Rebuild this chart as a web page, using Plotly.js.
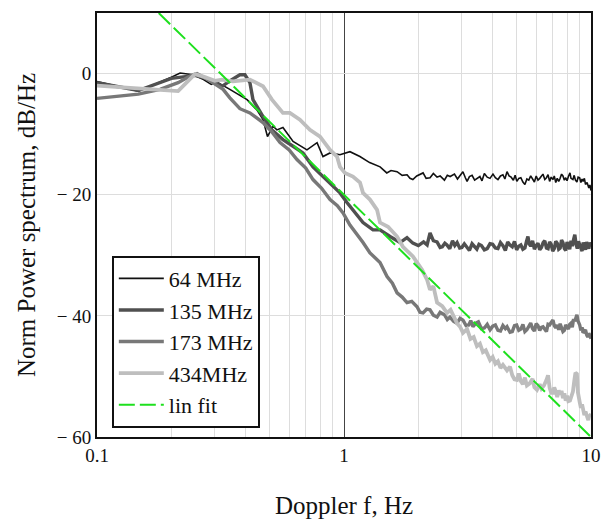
<!DOCTYPE html>
<html>
<head>
<meta charset="utf-8">
<script src="https://cdn.plot.ly/plotly-3.0.1.min.js"></script>
<style>
  html, body { margin: 0; padding: 0; background: #ffffff; }
  #chart { width: 607px; height: 519px; }
</style>
</head>
<body>
<div id="chart"></div>
<script>
// ---- Data: [frequency Hz, dB/Hz] ----
const seriesNames = ["64 MHz", "135 MHz", "173 MHz", "434MHz", "lin fit"];

const s64 = [[0.1,-1.3],[0.147,-2.9],[0.2,-0.6],[0.217,0.1],[0.245,-0.2],[0.27,-1],[0.29,-1.8],[0.306,-1.4],[0.345,-2.6],[0.405,-4.3],[0.444,-6],[0.47,-7.6],[0.49,-10.4],[0.516,-8.7],[0.535,-9.3],[0.566,-8.9],[0.622,-11.2],[0.708,-12.6],[0.778,-11.4],[0.822,-13.7],[0.878,-13.1],[0.963,-13.4],[1.057,-12.9],[1.16,-13.7],[1.27,-14.7],[1.4,-15.4],[1.49,-16.4],[1.55,-16],[1.64,-16.2],[1.72,-16.8],[1.8,-16.7],[1.85,-17.3],[1.9,-17.5],[1.97,-16.9],
[2.09,-16.4],[2.15,-17.3],[2.23,-17.2],[2.3,-16.5],[2.38,-17.1],[2.45,-16.9],[2.55,-17.6],[2.62,-16.8],[2.69,-17],[2.8,-16.6],[2.88,-17.4],[2.95,-16.9],[3.03,-16.2],[3.1,-17.2],[3.15,-17.8],[3.22,-17],[3.3,-16.8],[3.38,-17.6],[3.45,-17.4],[3.55,-17],[3.62,-17.7],[3.7,-16.5],[3.8,-17.1],[3.9,-17.3],[4.01,-16.6],[4.1,-17.2],[4.2,-17.5],[4.3,-16.9],[4.4,-16.7],[4.48,-17.4],[4.57,-16.2],[4.66,-16.9],[4.75,-17.1],[4.85,-17.6],[4.93,-16.8],[5.01,-17.8],[5.1,-17.3],[5.2,-17.2],[5.3,-17.9],[5.4,-18.3],[5.5,-17.4],[5.6,-17.6],[5.7,-16.9],[5.82,-17.4],[5.9,-17.9],[6.0,-16.9],[6.1,-17.6],[6.2,-17.3],[6.3,-16.8],[6.39,-16.6],[6.5,-17.5],[6.6,-17.2],[6.7,-16.7],[6.8,-17.8],[6.9,-17.1],[7.02,-17.5],[7.1,-16.9],[7.2,-18],[7.3,-17.3],[7.4,-17.8],[7.48,-17.4],[7.6,-16.6],[7.7,-16.9],[7.8,-17.6],[7.9,-17.2],[8.0,-17.7],[8.1,-17],[8.22,-16.4],[8.3,-17.3],[8.45,-17.5],[8.55,-16.8],[8.65,-17.6],[8.77,-17.9],[8.87,-17.1],[9.0,-17.2],[9.1,-18],[9.2,-17.4],[9.29,-17.8],[9.4,-17.3],[9.5,-18.3],[9.64,-18],[9.72,-18.6],[9.8,-18.9],[9.9,-18.4],[10,-19.3]];

const s135 = [[0.1,-1.5],[0.147,-2.8],[0.2,-0.8],[0.25,-0.3],[0.287,-1],[0.321,-2.1],[0.345,-1.2],[0.379,-0.2],[0.397,-0.2],[0.416,-1.5],[0.428,-4.3],[0.47,-7.1],[0.511,-9.3],[0.566,-10.9],[0.622,-12],[0.682,-13.1],[0.749,-15.4],[0.822,-17],[0.902,-18.7],[0.963,-19.7],[1.028,-21.3],[1.087,-22.5],[1.161,-24],[1.194,-24.6],[1.31,-25.8],[1.399,-25.8],[1.536,-26.9],[1.686,-27.9],[1.799,-27.1],[1.9,-28],[2.0,-28.4],
[2.1,-27.8],[2.17,-28.3],[2.23,-26.3],[2.3,-27.6],[2.38,-27.8],[2.45,-28.7],[2.5,-28.6],[2.56,-28],[2.61,-28.3],[2.68,-28.9],[2.75,-27.6],[2.81,-28.4],[2.87,-27.9],[2.94,-28.8],[3.0,-28.7],[3.07,-28.1],[3.15,-28.8],[3.22,-29.2],[3.3,-28.1],[3.37,-28.6],[3.45,-29],[3.52,-28.2],[3.6,-28.4],[3.7,-29.1],[3.8,-28.9],[3.9,-28.1],[4.0,-28.2],[4.1,-28.8],[4.2,-28.9],[4.3,-27.9],[4.4,-28.4],[4.5,-29.2],[4.6,-27.8],[4.7,-28.3],[4.8,-28.6],[4.9,-27.7],[5.0,-29.1],[5.1,-28.5],[5.2,-28.3],[5.3,-29],[5.4,-28.8],[5.48,-27.7],[5.555,-26.9],[5.62,-28.1],[5.7,-28.5],[5.8,-27.6],[5.9,-29],[6.0,-28.4],[6.1,-28],[6.2,-29.1],[6.3,-28.7],[6.4,-27.9],[6.5,-27.6],[6.6,-28.8],[6.7,-28.9],[6.8,-27.8],[6.9,-28.2],[7.0,-29.3],[7.1,-28.9],[7.2,-27.7],[7.3,-28],[7.4,-29],[7.5,-28.8],[7.6,-27.5],[7.7,-27.9],[7.8,-28.9],[7.9,-29.2],[8.0,-27.8],[8.1,-28.3],[8.2,-29],[8.3,-27.6],[8.4,-28.5],[8.5,-27.4],[8.6,-26.6],[8.7,-28.2],[8.8,-28.9],[8.9,-27.7],[9.0,-28.1],[9.1,-28.8],[9.2,-29.3],[9.3,-27.9],[9.4,-28.4],[9.5,-29.1],[9.6,-27.8],[9.7,-28.6],[9.8,-28.9],[9.9,-27.9],[10,-28.5]];

const s173 = [[0.1,-4.1],[0.147,-3.4],[0.18,-2.6],[0.213,-1.5],[0.238,-0.4],[0.254,0],[0.287,-1.2],[0.324,-2.6],[0.345,-4],[0.379,-5.8],[0.416,-6.5],[0.47,-8.1],[0.51,-9.6],[0.551,-11.4],[0.6,-12.6],[0.645,-14.2],[0.7,-15.6],[0.749,-17.5],[0.81,-18.9],[0.878,-20.8],[0.94,-21.8],[0.991,-23],[1.057,-25],[1.129,-26.5],[1.194,-27.9],[1.274,-29.6],[1.33,-30.3],[1.399,-31.2],[1.494,-33.5],[1.57,-34.6],[1.64,-36.2],[1.72,-36.9],[1.799,-37.8],[1.88,-37.6],[1.976,-38.5],
[2.03,-39.4],[2.089,-39.5],[2.16,-38.9],[2.229,-39],[2.3,-39.9],[2.381,-40.2],[2.45,-39.4],[2.55,-39.8],[2.62,-40.6],[2.685,-40.2],[2.78,-40.9],[2.866,-41.2],[2.95,-40.4],[3.033,-40.7],[3.12,-41.6],[3.2,-41.5],[3.26,-40.8],[3.327,-41.8],[3.42,-41.2],[3.5,-41],[3.6,-42.1],[3.7,-42],[3.8,-41.4],[3.903,-42.3],[4.0,-41.7],[4.1,-41.5],[4.2,-42.4],[4.3,-42.5],[4.4,-41.6],[4.5,-42.1],[4.571,-41.8],[4.7,-42.7],[4.8,-42.6],[4.9,-41.6],[5.0,-41.5],[5.1,-42.4],[5.2,-42.2],[5.3,-41.4],[5.4,-42.6],[5.5,-42.3],[5.6,-41.7],[5.7,-41.2],[5.8,-42.1],[5.9,-42.5],[6.0,-41.3],[6.1,-41.6],[6.2,-42.4],[6.3,-41.9],[6.394,-41.8],[6.5,-42.3],[6.6,-42.6],[6.7,-41.4],[6.8,-41.5],[6.9,-41.1],[7.015,-40.7],[7.1,-41.6],[7.2,-42],[7.3,-41.5],[7.4,-42.3],[7.5,-41.3],[7.6,-41.9],[7.7,-42.6],[7.8,-42.4],[7.9,-41.5],[8.0,-41.8],[8.1,-42.2],[8.2,-41.4],[8.3,-41.2],[8.4,-41.9],[8.5,-40.5],[8.6,-40.9],[8.7,-40.2],[8.77,-39.8],[8.85,-40.8],[9.0,-41.5],[9.1,-42.4],[9.2,-41.9],[9.285,-42.8],[9.4,-42.6],[9.5,-42.3],[9.6,-43.1],[9.7,-43.5],[9.8,-42.9],[9.9,-43.2],[10,-43.8]];

const s434 = [[0.1,-2],[0.147,-2.5],[0.213,-2.9],[0.249,-0.1],[0.27,-0.5],[0.3,-1.2],[0.32,-1],[0.355,-1.3],[0.416,-1],[0.47,-2.1],[0.511,-4.3],[0.566,-6.5],[0.604,-6.5],[0.663,-7.6],[0.728,-9.3],[0.8,-10.4],[0.878,-12.6],[0.937,-13.7],[0.963,-15.4],[1.009,-16.4],[1.087,-17],[1.161,-18],[1.194,-19.7],[1.274,-20.8],[1.361,-22.5],[1.399,-24.6],[1.508,-25.3],[1.64,-26.9],[1.733,-28.6],[1.902,-30.2],
[2.07,-32.4],[2.168,-34],[2.229,-35.7],[2.3,-35.1],[2.381,-37.8],[2.5,-38.4],[2.612,-39.5],[2.7,-39],[2.866,-41.2],[2.95,-41.8],[3.033,-42.8],[3.15,-42.2],[3.25,-43.8],[3.35,-43.5],[3.453,-45],[3.55,-44.6],[3.65,-46],[3.75,-45.7],[3.903,-47.3],[4.0,-46.8],[4.1,-47.9],[4.2,-47.5],[4.3,-48.6],[4.4,-48.1],[4.571,-49],[4.7,-48.4],[4.8,-49.8],[4.9,-50.5],[5.012,-50.6],[5.1,-49.5],[5.2,-50.8],[5.3,-51.3],[5.4,-50.2],[5.5,-51.5],[5.662,-51.1],[5.8,-50.4],[5.9,-51.8],[6.043,-52.2],[6.2,-51.3],[6.3,-52],[6.45,-51.5],[6.6,-50.6],[6.699,-49.8],[6.8,-51.9],[6.9,-52.7],[7.015,-52.7],[7.1,-51.8],[7.2,-52.5],[7.3,-53.4],[7.4,-52.3],[7.483,-53],[7.6,-52.4],[7.7,-53.6],[7.8,-52.8],[7.9,-54],[8.0,-53.2],[8.1,-54.1],[8.222,-54],[8.35,-53.2],[8.45,-52.5],[8.55,-50.8],[8.65,-49.4],[8.77,-49.6],[8.85,-52.6],[9.016,-54.4],[9.1,-55.2],[9.2,-54.6],[9.3,-55.7],[9.4,-56.4],[9.5,-55.8],[9.638,-56.7],[9.75,-57.2],[9.85,-56.3],[9.908,-56.5],[10,-56.2]];

const sFit = [[0.1778,10],[10,-60]];

const yTickVals = [-60, -40, -20, 0];
const yTickText = ["\u2212 60", "\u2212 40", "\u2212 20", "0"];
const xTickVals = [0.1, 1, 10];
const xTickText = ["0.1", "1", "10"];
const xMinorVals = [0.2,0.3,0.4,0.5,0.6,0.7,0.8,0.9,2,3,4,5,6,7,8,9];

// ---- Chart ----
const serif = "Liberation Serif, Times New Roman, serif";
const xs = s => s.map(p => p[0]);
const ys = s => s.map(p => p[1]);

const traces = [
  {x: xs(s64), y: ys(s64), name: seriesNames[0], mode: "lines", line: {color: "#111111", width: 1.6}},
  {x: xs(s135), y: ys(s135), name: seriesNames[1], mode: "lines", line: {color: "#505050", width: 3.4}},
  {x: xs(s173), y: ys(s173), name: seriesNames[2], mode: "lines", line: {color: "#787878", width: 3.4}},
  {x: xs(s434), y: ys(s434), name: seriesNames[3], mode: "lines", line: {color: "#bebebe", width: 3.8}},
  {x: xs(sFit), y: ys(sFit), name: seriesNames[4], mode: "lines", line: {color: "#1ee01e", width: 2, dash: "16px,5px"}}
];

const layout = {
  width: 607, height: 519,
  margin: {l: 97, r: 16, t: 13, b: 82},
  paper_bgcolor: "#ffffff", plot_bgcolor: "#ffffff",
  font: {family: serif, color: "#111111"},
  showlegend: true,
  legend: {
    x: 0.03, y: 0.428, xanchor: "left", yanchor: "top",
    bgcolor: "#ffffff", bordercolor: "#111111", borderwidth: 2,
    font: {family: serif, size: 22, color: "#111111"},
    itemwidth: 45,
    tracegroupgap: 0
  },
  xaxis: {
    type: "log", range: [-1, 1],
    tickmode: "array", tickvals: xTickVals, ticktext: xTickText,
    ticks: "", tickfont: {family: serif, size: 19, color: "#111111"},
    showgrid: true, gridcolor: "#444444", gridwidth: 1,
    minor: {tickmode: "array", tickvals: xMinorVals, showgrid: true, gridcolor: "#dddddd", gridwidth: 1, ticks: ""},
    showline: true, linecolor: "#111111", linewidth: 2, mirror: true,
    zeroline: false,
    title: {text: "Doppler f, Hz", font: {family: serif, size: 25, color: "#111111"}, standoff: 32}
  },
  yaxis: {
    range: [-60, 10],
    tickmode: "array", tickvals: yTickVals, ticktext: yTickText,
    ticks: "", tickfont: {family: serif, size: 19, color: "#111111"},
    showgrid: true, gridcolor: "#dddddd", gridwidth: 1,
    showline: true, linecolor: "#111111", linewidth: 2, mirror: true,
    zeroline: false,
    title: {text: "Norm Power spectrum, dB/Hz", font: {family: serif, size: 25, color: "#111111"}, standoff: 14}
  }
};

Plotly.newPlot("chart", traces, layout, {displayModeBar: false, staticPlot: true});
</script>
</body>
</html>
